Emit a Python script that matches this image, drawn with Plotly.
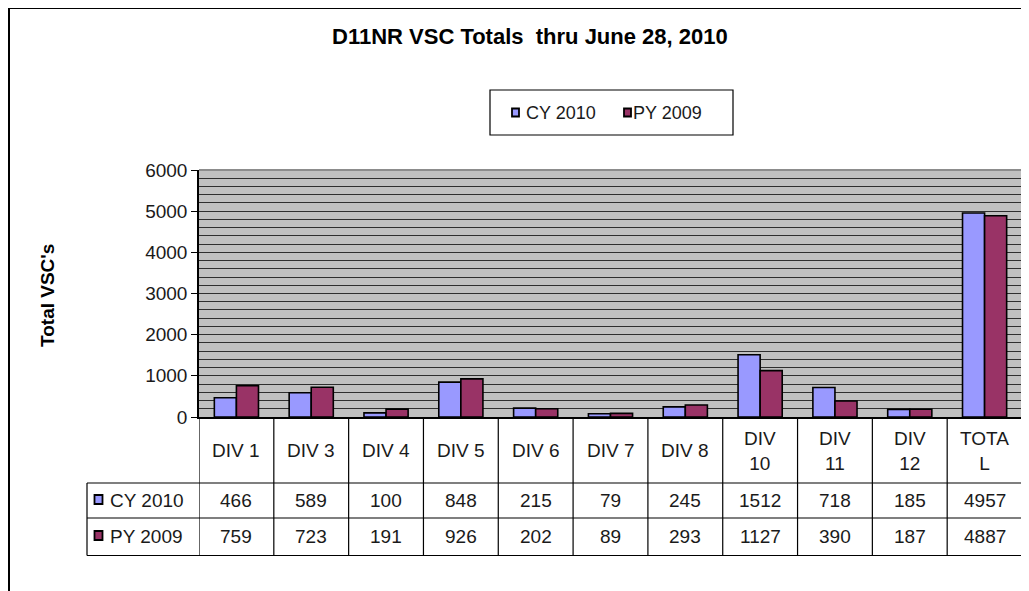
import plotly.graph_objects as go

# ---- data ----
categories = ["DIV 1", "DIV 3", "DIV 4", "DIV 5", "DIV 6", "DIV 7", "DIV 8",
              "DIV 10", "DIV 11", "DIV 12", "TOTAL"]
header_labels = ["DIV 1", "DIV 3", "DIV 4", "DIV 5", "DIV 6", "DIV 7", "DIV 8",
                 "DIV<br>10", "DIV<br>11", "DIV<br>12", "TOTA<br>L"]
cy_2010 = [466, 589, 100, 848, 215, 79, 245, 1512, 718, 185, 4957]
py_2009 = [759, 723, 191, 926, 202, 89, 293, 1127, 390, 187, 4887]
series_names = ["CY 2010", "PY 2009"]
series_colors = ["#9999FF", "#993366"]
title_text = "D11NR VSC Totals  thru June 28, 2010"
y_title = "Total VSC's"

# ---- layout geometry (screen pixels; page body has an 8px margin) ----
OFF = 8
W, H = 1029 - OFF, 591 - OFF
PL, PR, PT, PB = 199, 1022, 170, 417
FONT = "Liberation Sans, Arial, sans-serif"
TXT = "#1a1a1a"


def px(x):
    return (x - PL) / (PR - PL)


def py(y):
    return (PB - y) / (PB - PT)


xs = list(range(len(categories)))

fig = go.Figure()
for name, vals, col in zip(series_names, [cy_2010, py_2009], series_colors):
    fig.add_trace(go.Bar(
        x=xs, y=vals, name=name,
        marker=dict(color=col, line=dict(color="black", width=1.6)),
        showlegend=False,
    ))

shapes = []
annotations = []

# outer chart frame
shapes.append(dict(type="rect", xref="paper", yref="paper",
                   x0=px(9), x1=px(1045), y0=py(8), y1=py(610),
                   line=dict(color="black", width=2), fillcolor="rgba(0,0,0,0)"))

# plot area border (gray top/right)
shapes.append(dict(type="line", xref="paper", yref="paper", x0=0, x1=1, y0=1, y1=1,
                   line=dict(color="#8c8c8c", width=2)))
shapes.append(dict(type="line", xref="paper", yref="paper", x0=1, x1=1, y0=0, y1=1,
                   line=dict(color="#8c8c8c", width=2)))

# ---- data table ----
t_top, t_r1, t_r2, t_bot = 418, 483, 518, 555.5
t_left = 87
line_style = dict(color="black", width=1.2)
n = len(categories)
for i in range(n + 1):
    shapes.append(dict(type="line", xref="x", yref="paper",
                       x0=i - 0.5, x1=i - 0.5, y0=py(t_top), y1=py(t_bot),
                       line=line_style))
shapes.append(dict(type="line", xref="paper", yref="paper",
                   x0=px(t_left), x1=px(t_left), y0=py(t_r1), y1=py(t_bot),
                   line=line_style))
for yy in [t_r1, t_r2, t_bot]:
    shapes.append(dict(type="line", xref="paper", yref="paper",
                       x0=px(t_left), x1=1, y0=py(yy), y1=py(yy), line=line_style))

row_centers = [500, 536]
for i, lab in enumerate(header_labels):
    annotations.append(dict(xref="x", yref="paper", x=i, y=py(450.5),
                            text=lab, showarrow=False, xanchor="center", yanchor="middle",
                            font=dict(family=FONT, size=19, color=TXT)))
for r, (vals, name, col) in enumerate(zip([cy_2010, py_2009], series_names, series_colors)):
    yc = row_centers[r]
    for i, v in enumerate(vals):
        annotations.append(dict(xref="x", yref="paper", x=i, y=py(yc),
                                text=str(v), showarrow=False, xanchor="center",
                                yanchor="middle",
                                font=dict(family=FONT, size=19, color=TXT)))
    shapes.append(dict(type="rect", xref="paper", yref="paper",
                       x0=px(94.5), x1=px(102.5), y0=py(yc - 5), y1=py(yc + 4),
                       fillcolor=col, line=dict(color="black", width=1.8)))
    annotations.append(dict(xref="paper", yref="paper", x=px(108), y=py(yc),
                            text=name, showarrow=False, xanchor="left", yanchor="middle",
                            font=dict(family=FONT, size=19, color=TXT)))

# ---- legend (top) ----
shapes.append(dict(type="rect", xref="paper", yref="paper",
                   x0=px(490), x1=px(733), y0=py(90), y1=py(135),
                   line=dict(color="black", width=1.2), fillcolor="white"))
leg_items = [(512, 524), (624, 631)]
for (sx, tx), name, col in zip(leg_items, series_names, series_colors):
    shapes.append(dict(type="rect", xref="paper", yref="paper",
                       x0=px(sx), x1=px(sx + 7), y0=py(108.5), y1=py(116.5),
                       fillcolor=col, line=dict(color="black", width=1.8)))
    annotations.append(dict(xref="paper", yref="paper", x=px(tx), y=py(112.5),
                            text=name, showarrow=False, xanchor="left", yanchor="middle",
                            font=dict(family=FONT, size=18, color=TXT)))

# title
annotations.append(dict(xref="paper", yref="paper", x=px(530), y=py(37),
                        text="<b>" + title_text + "</b>", showarrow=False,
                        xanchor="center", yanchor="middle",
                        font=dict(family=FONT, size=22, color="black")))
# y axis title
annotations.append(dict(xref="paper", yref="paper", x=px(47), y=py(296),
                        text="<b>" + y_title + "</b>", showarrow=False, textangle=-90,
                        xanchor="center", yanchor="middle",
                        font=dict(family=FONT, size=19, color="black")))

fig.update_layout(
    width=W, height=H,
    margin=dict(l=PL - OFF, r=W - (PR - OFF), t=PT - OFF, b=H - (PB - OFF), pad=0),
    paper_bgcolor="white",
    plot_bgcolor="#C0C0C0",
    barmode="group", bargap=0.41, bargroupgap=0,
    shapes=shapes, annotations=annotations,
    xaxis=dict(range=[-0.5, n - 0.5], showticklabels=False, showgrid=False,
               zeroline=False, showline=True, linecolor="black", linewidth=1.5,
               ticks="", fixedrange=True),
    yaxis=dict(range=[0, 6000], dtick=1000, tick0=0, showgrid=True,
               gridcolor="#2e2e2e", gridwidth=1.2, zeroline=False,
               showline=True, linecolor="black", linewidth=1.5,
               ticks="outside", ticklen=6, tickcolor="black", tickwidth=1.2,
               tickfont=dict(family=FONT, size=19, color=TXT),
               minor=dict(dtick=200, showgrid=True, gridcolor="#2e2e2e", gridwidth=1.2,
                          ticks=""),
               fixedrange=True),
    font=dict(family=FONT, color=TXT),
)

fig.write_html("out.html")
